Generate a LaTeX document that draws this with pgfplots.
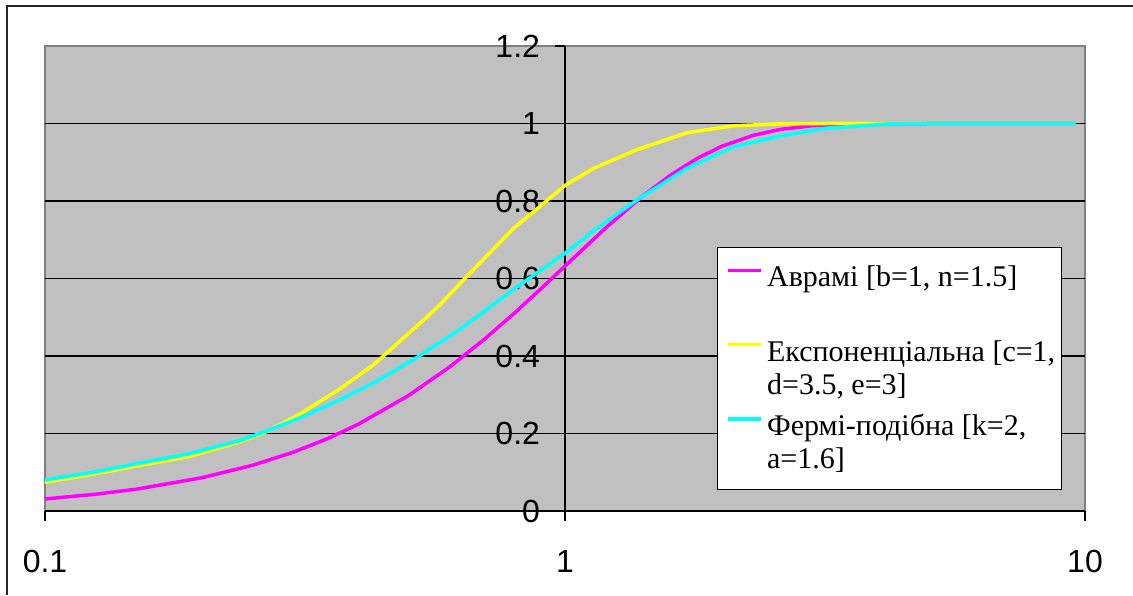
\documentclass[border=0pt]{standalone}
\usepackage{pgfplots}
\pgfplotsset{compat=1.18}
\usepackage{fontspec}
\setmainfont{Liberation Serif}
\newfontfamily\arial{Liberation Sans}
\definecolor{bggray}{RGB}{192,192,192}
\definecolor{bordergray}{RGB}{128,128,128}
\definecolor{cMag}{RGB}{255,0,255}
\definecolor{cYel}{RGB}{255,255,0}
\definecolor{cCyan}{RGB}{0,255,255}
\begin{document}
\begin{tikzpicture}
\path[use as bounding box] (0,0) rectangle (566.5pt,297.5pt);
\draw[line width=1pt, black!85] (3.5pt,0) -- (3.5pt,294.5pt) -- (566.5pt,294.5pt);
\begin{axis}[
  at={(22.5pt,42pt)}, anchor=south west,
  scale only axis, width=520pt, height=232.5pt,
  xmode=log, xmin=0.1, xmax=10, ymin=0, ymax=1.2,
  axis x line=bottom, axis y line=middle,
  axis line style={-, black, line width=0.6pt},
  axis background/.style={fill=bggray, draw=bordergray, line width=1pt},
  hide obscured x ticks=false, hide obscured y ticks=false,
  xtick={0.1,1,10}, xticklabels={0.1,1,10}, xminorticks=false,
  ytick={0,0.2,0.4,0.6,0.8,1}, yticklabels={0,0.2,0.4,0.6,0.8,1},
  extra y ticks={1.2}, extra y tick labels={1.2},
  extra y tick style={grid=none},
  ymajorgrids, grid style={black, line width=0.6pt},
  tick align=outside, major tick length=5pt,
  tick style={black, line width=0.6pt},
  /pgf/number format/assume math mode=true,
  tick label style={font=\arial\fontsize{16}{18}\selectfont},
  xticklabel style={yshift=-11pt},
  yticklabel style={xshift=-4pt},
  legend style={at={(0.646,0.568)}, anchor=north west, draw=black, fill=white,
    line width=0.5pt, font=\fontsize{15}{16.5}\selectfont,
    cells={anchor=north west, align=left},
    nodes={inner xsep=2pt, inner ysep=1pt},
    inner xsep=1pt, inner ysep=8pt, row sep=6.5pt},
  legend image code/.code={\path[draw=none] (0pt,0pt) -- (21pt,0pt);
    \draw[#1, line width=1.75pt] (4.5pt,-3.5pt) -- (21pt,-3.5pt);},
]
\addplot[cMag, line width=1.75pt] coordinates {
(0.1,0.0311) (0.125,0.0432) (0.15,0.0564) (0.2,0.0856) (0.25,0.1175)
(0.3,0.1515) (0.35,0.1870) (0.4,0.2236) (0.5,0.2978) (0.6,0.3717)
(0.7,0.4433) (0.8,0.5111) (0.9,0.5742) (1.0,0.6321) (1.2,0.7314)
(1.4,0.8092) (1.6,0.8679) (1.8,0.9106) (2.0,0.9409) (2.3,0.9694)
(2.6,0.9849) (3.0,0.9945) (3.5,0.9986) (4.0,0.9997) (5.0,1.0) (9.6,1.0)
};
\addlegendentry{Аврамі [b=1, n=1.5]\\\strut}
\addplot[cYel, line width=1.75pt] coordinates {
(0.1,0.074) (0.125,0.096) (0.15,0.116) (0.19,0.141) (0.237,0.178)
(0.265,0.203) (0.309,0.250) (0.369,0.315) (0.428,0.377) (0.526,0.484)
(0.575,0.532) (0.647,0.605) (0.796,0.729) (1.0,0.840) (1.134,0.884)
(1.373,0.932) (1.714,0.976) (2.107,0.994) (2.591,0.999) (3.19,1.0) (9.6,1.0)
};
\addlegendentry{Експоненціальна [c=1,\\d=3.5, e=3]}
\addplot[cCyan, line width=1.75pt] coordinates {
(0.1,0.080) (0.125,0.101) (0.15,0.122) (0.19,0.148) (0.237,0.182)
(0.265,0.205) (0.309,0.240) (0.369,0.287) (0.428,0.330) (0.526,0.401)
(0.63,0.470) (0.808,0.578) (1.0,0.665) (1.134,0.722) (1.276,0.772)
(1.373,0.802) (1.714,0.884) (2.107,0.940) (2.591,0.968) (3.19,0.988)
(4.22,0.999) (5.0,1.0) (9.6,1.0)
};
\addlegendentry{Фермі-подібна [k=2,\\a=1.6]}
\end{axis}
\end{tikzpicture}
\end{document}
